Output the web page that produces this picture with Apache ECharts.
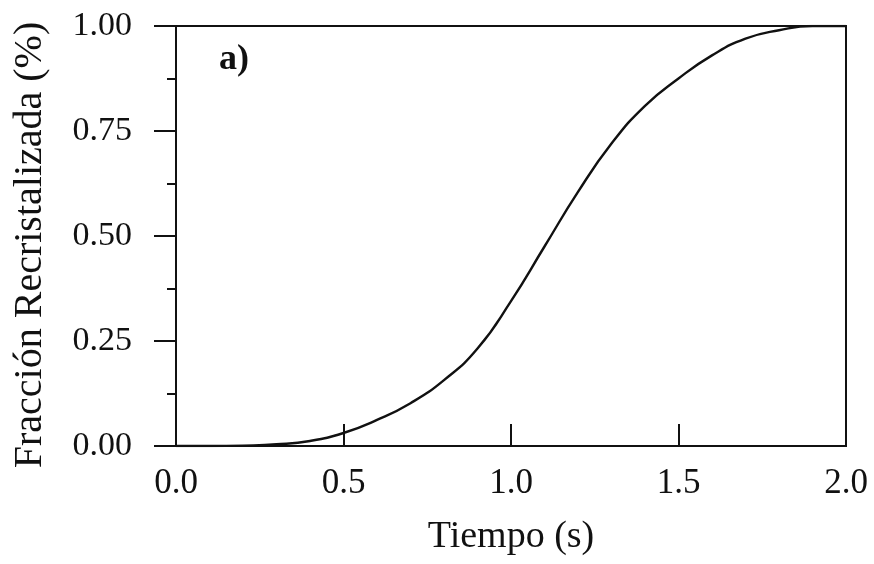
<!DOCTYPE html>
<html>
<head>
<meta charset="utf-8">
<script src="https://cdn.jsdelivr.net/npm/echarts@6/dist/echarts.min.js"></script>
<style>
  html, body { margin: 0; padding: 0; background: #fff; }
  #chart { width: 874px; height: 564px; }
</style>
</head>
<body>
<div id="chart"></div>
<script>
// tiempo (s) y fraccion recristalizada
var tiempo = [0, 0.1, 0.2, 0.3, 0.4, 0.5, 0.6, 0.7, 0.8, 0.9, 1.0, 1.1, 1.2, 1.3, 1.4, 1.5, 1.6, 1.7, 1.8, 1.9, 2.0];
var fraccion = [0, 0, 0.001, 0.004, 0.012, 0.031, 0.062, 0.102, 0.157, 0.232, 0.345, 0.475, 0.605, 0.72, 0.81, 0.875, 0.93, 0.97, 0.99, 1.0, 1.0];
var xTicks = [0, 0.5, 1.0, 1.5, 2.0];
var yTicks = [0, 0.25, 0.5, 0.75, 1.0];

var serie = tiempo.map(function (t, i) { return [t, fraccion[i]]; });
var font = '"Liberation Serif", "DejaVu Serif", serif';
var negro = '#111';

var chart = echarts.init(document.getElementById('chart'));
chart.setOption({
    animation: false,
    backgroundColor: '#fff',
    grid: {
        left: 176, right: 28, top: 26, bottom: 118,
        show: true, borderColor: negro, borderWidth: 2
    },
    graphic: [{
        type: 'text', left: 219, top: 42,
        style: { text: 'a)', font: 'bold 36px ' + font, fill: negro }
    }],
    xAxis: {
        type: 'value', min: xTicks[0], max: xTicks[xTicks.length - 1], interval: 0.5,
        name: 'Tiempo (s)', nameLocation: 'middle', nameGap: 72,
        nameTextStyle: { fontFamily: font, fontSize: 38, color: negro },
        axisLine: { lineStyle: { color: negro, width: 2 } },
        axisTick: { inside: true, length: 22, lineStyle: { color: negro, width: 2 } },
        splitLine: { show: false },
        axisLabel: {
            margin: 20, fontFamily: font, fontSize: 35, color: negro,
            formatter: function (v) { return v.toFixed(1); }
        }
    },
    yAxis: {
        type: 'value', min: yTicks[0], max: yTicks[yTicks.length - 1], interval: 0.25,
        name: 'Fracción Recristalizada (%)', nameLocation: 'middle', nameGap: 126,
        nameTextStyle: { fontFamily: font, fontSize: 40, color: negro, padding: [0, 18, 0, 0] },
        axisLine: { lineStyle: { color: negro, width: 2 } },
        axisTick: { inside: false, length: 22, lineStyle: { color: negro, width: 2 } },
        minorTick: { show: true, splitNumber: 2, length: 9, lineStyle: { color: negro, width: 2 } },
        splitLine: { show: false },
        axisLabel: {
            margin: 44, fontFamily: font, fontSize: 34, color: negro,
            formatter: function (v) { return v.toFixed(2); }
        }
    },
    series: [{
        type: 'line',
        data: serie,
        smooth: true,
        showSymbol: false,
        lineStyle: { color: negro, width: 2.4 }
    }]
});
</script>
</body>
</html>
